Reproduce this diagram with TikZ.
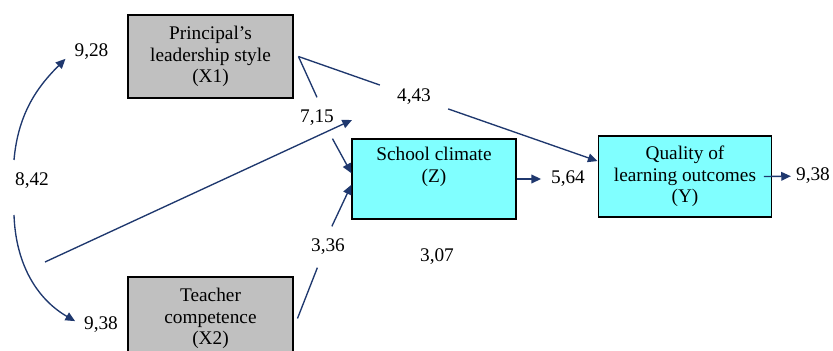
\documentclass[tikz,border=0pt]{standalone}
\usepackage{fontspec}
\setmainfont{Liberation Serif}
\usetikzlibrary{arrows.meta}
\definecolor{pathblue}{RGB}{31,56,110}
\definecolor{boxgray}{RGB}{192,192,192}
\definecolor{boxcyan}{RGB}{128,255,255}

\begin{document}
\begin{tikzpicture}[x=0.518pt, y=-0.518pt,
  var/.style={draw=black, line width=0.6pt, align=center, inner sep=0pt,
    font=\rmfamily\fontsize{10}{11.2}\selectfont},
  num/.style={inner sep=1pt, font=\rmfamily\fontsize{10}{11.2}\selectfont},
  gapnum/.style={num, minimum width=35pt, minimum height=21pt},
  plain/.style={draw=pathblue, line width=0.7pt},
  link/.style={plain, -{Triangle[length=5pt, width=4.5pt]}}]
  \useasboundingbox (0,0) rectangle (833,351);
  % variables
  \node[var, fill=boxgray, minimum width=85.5pt, minimum height=43pt] (X1) at (210.5,56.5) {Principal’s\\leadership style\\(X1)};
  \node[var, fill=boxgray, minimum width=85.5pt, minimum height=43pt] (X2) at (210.5,318.5) {Teacher\\competence\\(X2)};
  \node[var, fill=boxcyan, minimum width=85pt, minimum height=41.4pt] (Z) at (434,179) {School climate\\(Z)\\\strut};
  \node[var, fill=boxcyan, minimum width=90pt, minimum height=42pt] (Y) at (685,176.5) {Quality of\\learning outcomes\\(Y)};
  % coefficients
  \node[num] (l928) at (91.5,52) {9,28};
  \node[num] (l842) at (32,181) {8,42};
  \node[num] (l938a) at (101,325) {9,38};
  \node[gapnum] (l715) at (317,118) {7,15};
  \node[gapnum] (l443) at (414,97) {4,43};
  \node[gapnum] (l336) at (328,247) {3,36};
  \node[num] (l307) at (437,257) {3,07};
  \node[num] (l564) at (568,179) {5,64};
  \node[num] (l938b) at (813,176) {9,38};
  \coordinate (c1) at (14,160);
  \coordinate (c2) at (14,215);
  \coordinate (c3) at (45,262);
  \coordinate (c4) at (352,120);
  % paths
  \draw[link, shorten >=5pt] (c1) to[out=85, in=225] (l928.west);
  \draw[link, shorten >=4pt] (c2) to[out=-88, in=150] (l938a.west);
  \draw[link] (c3) -- (c4);
  \draw[plain] ([xshift=2.5pt]X1.east) -- (l715.north);
  \draw[link] ([xshift=8pt]l715.south) -- (Z.176);
  \draw[plain] ([xshift=2.5pt]X1.east) -- (l443);
  \draw[link] (l443) -- (Y.170);
  \draw[plain] ([xshift=2pt]X2.east) -- ([xshift=-5.5pt]l336.south);
  \draw[link] ([xshift=2pt]l336.north) -- (Z.184);
  \draw[link, shorten >=4pt] (Z.east) -- (l564.west);
  \draw[link, shorten >=1.5pt] ([xshift=-4.5pt]Y.east) -- (l938b);
\end{tikzpicture}
\end{document}
